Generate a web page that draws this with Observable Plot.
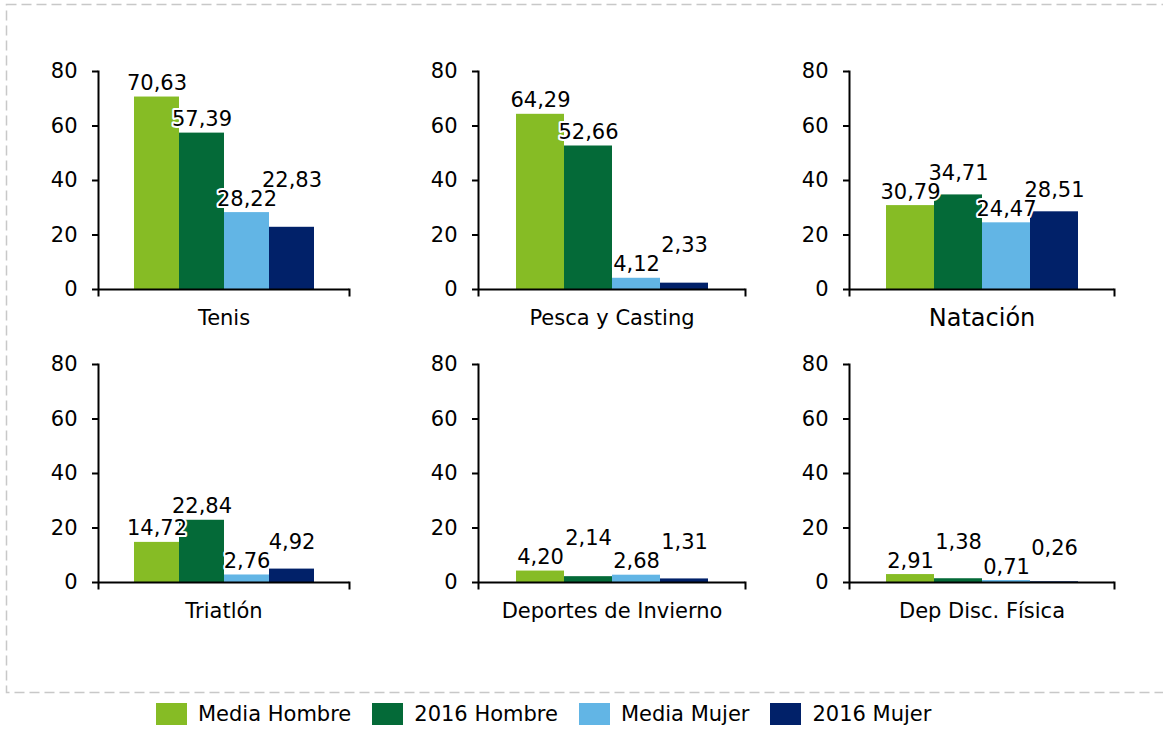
<!DOCTYPE html>
<html>
<head>
<meta charset="utf-8">
<script src="https://cdn.jsdelivr.net/npm/d3@7"></script>
<script src="https://cdn.jsdelivr.net/npm/@observablehq/plot@0.6"></script>
<style>
  html, body { margin: 0; padding: 0; background: #fff; }
  #root { position: relative; width: 1163px; height: 729px; overflow: hidden; font-family: "DejaVu Sans", Verdana, sans-serif; }
  .panel { position: absolute; }
  #legend { position: absolute; left: 156px; top: 697px; }
</style>
</head>
<body>
<div id="root">
  <svg id="border" width="1163" height="729" style="position:absolute;left:0;top:0">
    <rect x="6.5" y="4.5" width="1180" height="688" fill="none" stroke="#c8c8c8" stroke-width="1.5" stroke-dasharray="10 5"></rect>
  </svg>
  <div id="legend"></div>
</div>
<script>
// ---- data ----
const categories = ["Tenis", "Pesca y Casting", "Natación", "Triatlón", "Deportes de Invierno", "Dep Disc. Física"];
const series = ["Media Hombre", "2016 Hombre", "Media Mujer", "2016 Mujer"];
const mediaHombre = [70.63, 64.29, 30.79, 14.72, 4.20, 2.91];
const hombre2016  = [57.39, 52.66, 34.71, 22.84, 2.14, 1.38];
const mediaMujer  = [28.22, 4.12, 24.47, 2.76, 2.68, 0.71];
const mujer2016   = [22.83, 2.33, 28.51, 4.92, 1.31, 0.26];
const yTicks = [0, 20, 40, 60, 80];
const colors = ["#86bc25", "#046a38", "#62b5e5", "#012169"];

// ---- layout ----
const seriesValues = [mediaHombre, hombre2016, mediaMujer, mujer2016];
const font = "'DejaVu Sans', Verdana, sans-serif";
const fs = 21;
const colLeft = [38, 418, 789];
const colPlotW = [251, 267, 265];
const rowTop = [51, 344];
const mL = 60, mR = 10, mT = 20, mB = 45, plotH = 218;
const padOuter = 0.73;
const fmt = v => v.toFixed(2).replace(".", ",");
const textWidth = s => [...s].reduce((w, c) => w + (c === "," ? 0.318 : 0.636), 0) * fs;

const root = document.getElementById("root");

categories.forEach((cat, i) => {
  const col = i % 3, row = Math.floor(i / 3);
  const step = colPlotW[col] / (series.length + 2 * padOuter);
  const unitsPerPx = 80 / plotH;
  const textH = 19 * unitsPerPx;
  const data = series.map((s, j) => ({series: s, value: seriesValues[j][i], label: fmt(seriesValues[j][i])}));
  // stack colliding labels above their neighbour
  data.forEach((d, j) => {
    d.labelY = d.value;
    if (j > 0) {
      const p = data[j - 1];
      const hOverlap = (textWidth(p.label) + textWidth(d.label)) / 2 + 4 > step;
      if (hOverlap && Math.abs(d.labelY - p.labelY) < textH) d.labelY = p.labelY + textH;
    }
  });
  const chart = Plot.plot({
    width: mL + colPlotW[col] + mR,
    height: mT + plotH + mB,
    marginLeft: mL, marginRight: mR, marginTop: mT, marginBottom: mB,
    style: {fontFamily: font, background: "transparent", overflow: "visible"},
    x: {domain: series, paddingInner: 0, paddingOuter: padOuter, axis: null},
    y: {domain: [0, 80], axis: null},
    color: {domain: series, range: colors},
    marks: [
      Plot.barY(data, {x: "series", y: "value", fill: "series"}),
      Plot.ruleY([0], {stroke: "black", strokeWidth: 2}),
      Plot.frame({anchor: "left", stroke: "black", strokeWidth: 2, insetBottom: -6}),
      Plot.frame({anchor: "right", stroke: "black", strokeWidth: 2, insetTop: plotH, insetBottom: -6}),
      Plot.axisY({ticks: yTicks, tickSize: 6, tickPadding: 15, fontSize: fs, stroke: "black", strokeWidth: 2, fill: "black", label: null}),
      Plot.text(data, {
        x: "series", y: "labelY", text: "label",
        dy: -7, lineAnchor: "bottom", fontSize: fs, fill: "black",
        stroke: "white", strokeWidth: 4, paintOrder: "stroke"
      }),
      Plot.text([cat], {
        text: d => d, frameAnchor: "bottom", dy: 29, lineAnchor: "middle",
        fontSize: cat === "Natación" ? 24 : fs, fill: "black"
      })
    ]
  });
  const div = document.createElement("div");
  div.className = "panel";
  div.style.left = colLeft[col] + "px";
  div.style.top = rowTop[row] + "px";
  div.appendChild(chart);
  root.appendChild(div);
});

const legend = Plot.legend({
  color: {domain: series, range: colors},
  swatchWidth: 31, swatchHeight: 22,
  style: {fontFamily: font, fontSize: fs + "px", color: "black"}
});
legend.querySelectorAll("span").forEach(s => { s.style.marginRight = "21px"; });
legend.querySelectorAll("span > svg").forEach(s => { s.style.marginRight = "11px"; });
document.getElementById("legend").appendChild(legend);
</script>
</body>
</html>
